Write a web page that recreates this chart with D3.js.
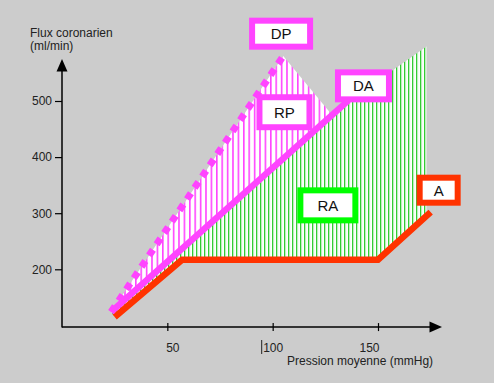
<!DOCTYPE html>
<html><head><meta charset="utf-8">
<script src="https://cdn.jsdelivr.net/npm/d3@7"></script>
<style>html,body{margin:0;padding:0;background:#cccccc;}svg{display:block;font-family:Arial,"Liberation Sans",sans-serif;}</style>
</head><body>
<svg id="c" width="494" height="383"></svg>
<script>
// ---- data (pression moyenne mmHg, flux coronarien ml/min) ----
const pressionTicks = [50, 100, 150];
const fluxTicks = [200, 300, 400, 500];
const courbeA  = [[25,115],[57,217],[150,217],[175,302]];          // autorégulation (A)
const courbeDA = [[23.3,124],[136,501]];                          // dilatation artérielle
const courbeDP = [[23.3,124],[105,580]];                          // dilatation pharmacologique
const zoneRP   = [[23.3,124],[105,580],[128,476]];                // réserve pharmacologique
const zoneRA   = [[23.3,124],[134,494],[173,597],[173,295],[150,217],[57,217],[25,115]]; // réserve d'autorégulation
const etiquettes = [
  {t:"DP", p:[104.0,620], w:64, h:32, c:"#ff44ff"},
  {t:"DA", p:[143.1,527], w:57, h:33, c:"#ff44ff"},
  {t:"RP", p:[105.6,480], w:56, h:36, c:"#ff44ff"},
  {t:"RA", p:[126.2,314], w:61, h:36, c:"#00ff00"},
  {t:"A",  p:[178.8,341], w:44, h:31, c:"#ff3300"}
];
const tickLabelShift = [5, 0, -9];

// ---- scales ----
const x = d3.scaleLinear().domain([0,150]).range([62,378]);
const y = d3.scaleLinear().domain([200,500]).range([269.3,101]);
const xAxisAt = 97, yAxisAt = 0;

const svg = d3.select("#c");
svg.append("rect").attr("width",494).attr("height",383).attr("fill","#cccccc");

const defs = svg.append("defs");
const pp = defs.append("pattern").attr("id","hp").attr("patternUnits","userSpaceOnUse").attr("width",5.4).attr("height",10);
pp.append("rect").attr("width",5.4).attr("height",10).attr("fill","#ffffff");
pp.append("rect").attr("x",0).attr("width",1.6).attr("height",10).attr("fill","#ff44ff");
const pg = defs.append("pattern").attr("id","hg").attr("patternUnits","userSpaceOnUse").attr("width",4).attr("height",10);
pg.append("rect").attr("width",4).attr("height",10).attr("fill","#ffffff");
pg.append("rect").attr("x",0).attr("width",1.4).attr("height",10).attr("fill","#33cc33");
pg.append("rect").attr("x",1.4).attr("width",0.8).attr("height",10).attr("fill","#c8f0c8");

const line = d3.line().x(d=>x(d[0])).y(d=>y(d[1]));
const poly = pts => line(pts) + "Z";

svg.append("path").attr("d",poly(zoneRA)).attr("fill","url(#hg)");
svg.append("path").attr("d",poly(zoneRP)).attr("fill","url(#hp)");

svg.append("path").attr("d",line(courbeA)).attr("fill","none").attr("stroke","#ff3300")
  .attr("stroke-width",6.5).attr("stroke-linejoin","miter");
svg.append("path").attr("d",line(courbeDP)).attr("fill","none").attr("stroke","#ff44ff")
  .attr("stroke-width",7).attr("stroke-dasharray","7 6.6");
svg.append("path").attr("d",line(courbeDA)).attr("fill","none").attr("stroke","#ff44ff")
  .attr("stroke-width",6.5);

// ---- axes ----
const ax = svg.append("g");
const x0 = x(yAxisAt), yb = y(xAxisAt);
ax.append("line").attr("x1",x0).attr("x2",x0).attr("y1",yb+0.5).attr("y2",68).attr("stroke","#000").attr("stroke-width",1.5);
ax.append("path").attr("d",`M${x0},59 L${x0-5.5},71.5 L${x0+5.5},71.5Z`).attr("fill","#000");
ax.append("line").attr("x1",x0).attr("x2",434).attr("y1",yb).attr("y2",yb).attr("stroke","#000").attr("stroke-width",1.5);
ax.append("path").attr("d",`M442,${yb} L429.5,${yb-5.5} L429.5,${yb+5.5}Z`).attr("fill","#000");

const yAx = svg.append("g").attr("transform",`translate(${x0},0)`)
  .call(d3.axisLeft(y).tickValues(fluxTicks).tickSize(7).tickPadding(3));
yAx.select(".domain").remove();
yAx.selectAll("line").attr("stroke","#000").attr("stroke-width",1.2);
yAx.selectAll("text").attr("font-size",12).attr("fill","#222").attr("font-family","Arial, 'Liberation Sans', sans-serif");

const xAx = svg.append("g").attr("transform",`translate(0,${yb})`)
  .call(d3.axisBottom(x).tickValues(pressionTicks).tickSize(4).tickPadding(12));
xAx.select(".domain").remove();
xAx.selectAll("line").attr("y1",-4).attr("stroke","#000").attr("stroke-width",1.2);
xAx.selectAll("text").attr("font-size",12).attr("fill","#222").attr("font-family","Arial, 'Liberation Sans', sans-serif")
  .attr("dx",(d,i)=>tickLabelShift[i]);
svg.append("line").attr("x1",261.7).attr("x2",261.7).attr("y1",340).attr("y2",354).attr("stroke","#222").attr("stroke-width",1);

svg.append("text").attr("x",30).attr("y",37).attr("font-size",12).attr("fill","#222").text("Flux coronarien");
svg.append("text").attr("x",30).attr("y",50).attr("font-size",12).attr("fill","#222").text("(ml/min)");
svg.append("text").attr("x",287).attr("y",365).attr("font-size",12).attr("fill","#222").text("Pression moyenne (mmHg)");

// ---- label boxes ----
const g = svg.append("g").selectAll("g").data(etiquettes).join("g")
  .attr("transform",d=>`translate(${x(d.p[0])},${y(d.p[1])})`);
g.append("rect").attr("x",d=>-d.w/2+3).attr("y",d=>-d.h/2+3).attr("width",d=>d.w-6).attr("height",d=>d.h-6)
  .attr("fill","#fff").attr("stroke",d=>d.c).attr("stroke-width",6);
g.append("text").attr("text-anchor","middle").attr("dy","0.36em").attr("font-size",15).attr("fill","#111").text(d=>d.t);
</script>
</body></html>
